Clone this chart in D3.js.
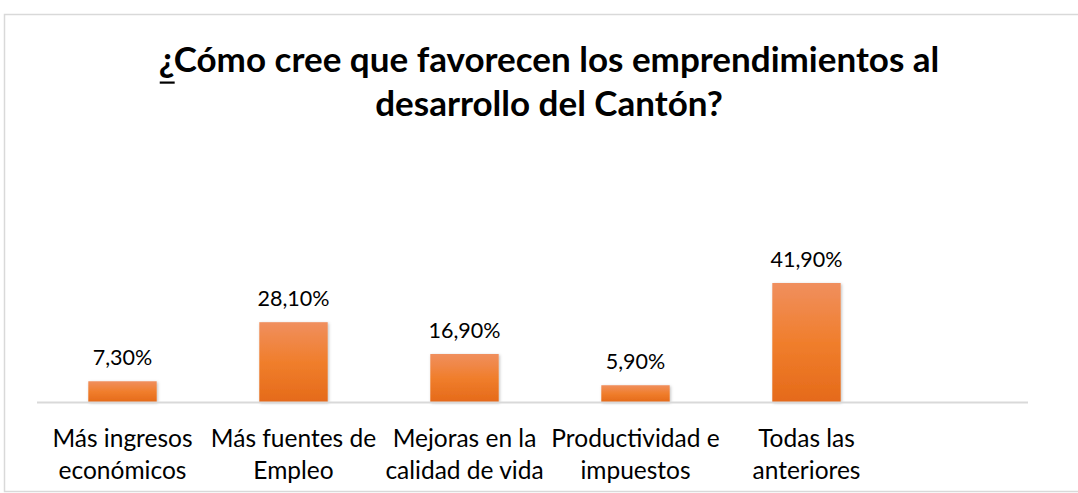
<!DOCTYPE html>
<html><head><meta charset="utf-8">
<script src="https://cdn.jsdelivr.net/npm/d3@7"></script>
<style>body{margin:0;background:#fff}svg{display:block}</style>
</head><body>
<script>
const categories = [
  ["Más ingresos", "económicos"],
  ["Más fuentes de", "Empleo"],
  ["Mejoras en la", "calidad de vida"],
  ["Productividad e", "impuestos"],
  ["Todas las", "anteriores"]
];
const values = [0.073, 0.281, 0.169, 0.059, 0.419];
const valueLabels = ["7,30%", "28,10%", "16,90%", "5,90%", "41,90%"];
const titleLines = ["¿Cómo cree que favorecen los emprendimientos al", "desarrollo del Cantón?"];

const W = 1078, H = 493;
const font = "Lato, 'Open Sans', sans-serif";
const svg = d3.select("body").append("svg").attr("width", W).attr("height", H);

const defs = svg.append("defs");
const g = defs.append("linearGradient").attr("id","barGrad").attr("x1",0).attr("y1",0).attr("x2",0).attr("y2",1);
g.append("stop").attr("offset","0%").attr("stop-color","#F08F5E");
g.append("stop").attr("offset","50%").attr("stop-color","#F07E2C");
g.append("stop").attr("offset","100%").attr("stop-color","#E56A1A");
const f = defs.append("filter").attr("id","shadow").attr("x","-20%").attr("y","-20%").attr("width","140%").attr("height","140%");
f.append("feDropShadow").attr("dx",1).attr("dy",1).attr("stdDeviation",1.5).attr("flood-color","#000").attr("flood-opacity",0.25);

// outer frame
svg.append("rect").attr("x",4.5).attr("y",14.5).attr("width",W+10).attr("height",477)
  .attr("fill","#fff").attr("stroke","#d9d9d9").attr("stroke-width",1.5);

const x = d3.scaleBand().domain(d3.range(categories.length)).range([37, 892]).paddingInner(0.6).paddingOuter(0.3);
const y = d3.scaleLinear().domain([0, 0.5]).range([402, 260]);

// title
const title = svg.append("g").attr("font-family",font).attr("font-weight","bold").attr("font-size",35).attr("fill","#000");
const t1 = title.append("text").attr("text-anchor","middle").attr("x", 549).attr("y", 72).text(titleLines[0]);
title.append("text").attr("text-anchor","middle").attr("x", 549).attr("y", 116).text(titleLines[1]);
// underline under the leading "¿"
const meas = title.append("text").attr("x", 0).attr("y", -100).text(titleLines[0].slice(0,1));
const firstW = meas.node().getComputedTextLength();
meas.remove();
const bb = t1.node().getBBox();
title.append("rect").attr("x", bb.x + 1).attr("y", 81.5).attr("width", Math.max(firstW - 1, 14)).attr("height", 2.2).attr("fill", "#000");

// bars
svg.append("g").selectAll("rect").data(values).join("rect")
  .attr("x", (d,i) => x(i)).attr("width", x.bandwidth())
  .attr("y", d => y(d)).attr("height", d => y(0) - y(d))
  .attr("fill","url(#barGrad)").attr("filter","url(#shadow)");

// axis line
const axis = svg.append("g").attr("transform", `translate(0,${y(0)})`)
  .call(d3.axisBottom(x).tickSize(0).tickFormat(""));
axis.select(".domain").attr("d", "M37,0.5H1028").attr("stroke","#d9d9d9").attr("stroke-width",2);

// value labels
svg.append("g").selectAll("text").data(values).join("text")
  .attr("x", (d,i) => x(i) + x.bandwidth()/2).attr("y", d => y(d) - 16)
  .attr("text-anchor","middle").attr("font-family",font).attr("font-size",21.5).attr("fill","#000")
  .text((d,i) => valueLabels[i]);

// category labels
const cl = svg.append("g").selectAll("text").data(categories).join("text")
  .attr("text-anchor","middle").attr("font-family",font).attr("font-size",24.5).attr("fill","#000");
cl.selectAll("tspan").data((d,i) => d.map(s => ({s, i}))).join("tspan")
  .attr("x", d => x(d.i) + x.bandwidth()/2).attr("y", (d,j) => 447 + j*32).text(d => d.s);
</script>
</body></html>
